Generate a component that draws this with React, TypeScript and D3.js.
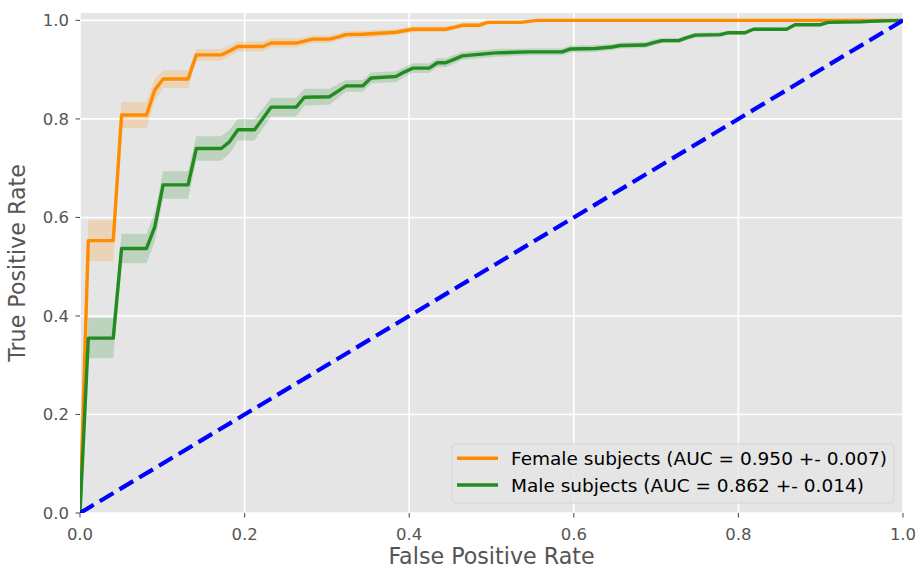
import React from "react";
import * as d3 from "d3";

// ---- data ----
const femaleFpr = [0, 0.0101, 0.0404, 0.0505, 0.0808, 0.0909, 0.101, 0.1313, 0.1414, 0.1717, 0.1818, 0.1919, 0.2222, 0.2323, 0.2626, 0.2727, 0.2828, 0.303, 0.3131, 0.3232, 0.3434, 0.3636, 0.3838, 0.3939, 0.404, 0.4444, 0.4545, 0.4646, 0.4848, 0.4949, 0.5354, 0.5455, 0.5556, 1.0];
const femaleTpr = [0, 0.553, 0.553, 0.808, 0.808, 0.859, 0.881, 0.881, 0.93, 0.93, 0.938, 0.947, 0.947, 0.954, 0.954, 0.958, 0.962, 0.962, 0.966, 0.971, 0.972, 0.974, 0.976, 0.979, 0.982, 0.982, 0.986, 0.99, 0.99, 0.996, 0.996, 0.998, 1.0, 1.0];
const femaleStd = [0, 0.042, 0.042, 0.027, 0.027, 0.022, 0.018, 0.018, 0.012, 0.012, 0.011, 0.01, 0.01, 0.009, 0.009, 0.008, 0.008, 0.008, 0.007, 0.007, 0.007, 0.007, 0.006, 0.006, 0.006, 0.006, 0.005, 0.005, 0.005, 0.004, 0.004, 0.002, 0, 0];

const maleFpr = [0, 0.0101, 0.0404, 0.0505, 0.0808, 0.0909, 0.101, 0.1313, 0.1414, 0.1717, 0.1818, 0.1919, 0.2121, 0.2222, 0.2323, 0.2626, 0.2727, 0.303, 0.3131, 0.3232, 0.3434, 0.3535, 0.3838, 0.3939, 0.404, 0.4242, 0.4343, 0.4444, 0.4545, 0.4646, 0.4848, 0.5051, 0.5455, 0.5859, 0.596, 0.6263, 0.6465, 0.6566, 0.6869, 0.697, 0.7071, 0.7273, 0.7374, 0.7475, 0.7778, 0.7879, 0.8081, 0.8182, 0.8586, 0.8687, 0.899, 0.9091, 0.9495, 0.9596, 1.0];
const maleTpr = [0, 0.355, 0.355, 0.537, 0.537, 0.581, 0.666, 0.666, 0.74, 0.74, 0.754, 0.778, 0.778, 0.801, 0.824, 0.824, 0.844, 0.845, 0.856, 0.867, 0.867, 0.883, 0.886, 0.895, 0.903, 0.903, 0.914, 0.914, 0.921, 0.928, 0.931, 0.934, 0.936, 0.936, 0.942, 0.943, 0.946, 0.949, 0.95, 0.955, 0.959, 0.959, 0.965, 0.97, 0.971, 0.975, 0.975, 0.982, 0.982, 0.991, 0.991, 0.996, 0.997, 0.998, 1.0];
const maleStd = [0, 0.041, 0.041, 0.03, 0.03, 0.029, 0.028, 0.028, 0.025, 0.025, 0.024, 0.022, 0.022, 0.02, 0.019, 0.019, 0.017, 0.016, 0.014, 0.012, 0.012, 0.011, 0.011, 0.01, 0.01, 0.01, 0.009, 0.009, 0.009, 0.008, 0.008, 0.008, 0.007, 0.007, 0.007, 0.007, 0.006, 0.006, 0.006, 0.006, 0.005, 0.005, 0.005, 0.005, 0.005, 0.004, 0.004, 0.004, 0.003, 0.003, 0.003, 0.002, 0.002, 0.002, 0];

const xTicks = [0, 0.2, 0.4, 0.6, 0.8, 1.0];
const yTicks = [0, 0.2, 0.4, 0.6, 0.8, 1.0];
const legendLabels = ["Female subjects (AUC = 0.950 +- 0.007)", "Male subjects (AUC = 0.862 +- 0.014)"];
const seriesColors = ["#ff8c00", "#228b22"];

const W = 919, H = 569;
const L = 80, R = 903, T = 13, B = 513;
const FONT = "'DejaVu Sans', sans-serif";

export default function App() {
  const x = d3.scaleLinear().domain([0, 1]).range([L, R]);
  const y = d3.scaleLinear().domain([0, 1.015]).range([B, T]);

  const series = [
    { fpr: femaleFpr, tpr: femaleTpr, std: femaleStd, color: seriesColors[0] },
    { fpr: maleFpr, tpr: maleTpr, std: maleStd, color: seriesColors[1] },
  ];

  const mk = (s: any) => {
    const pts = s.fpr.map((f: number, i: number) => [x(f), y(s.tpr[i])] as [number, number]);
    const area = d3
      .area<number>()
      .x((_, i) => x(s.fpr[i]))
      .y0((_, i) => y(Math.max(s.tpr[i] - s.std[i], 0)))
      .y1((_, i) => y(Math.min(s.tpr[i] + s.std[i], 1)));
    return { linePath: d3.line()(pts) as string, areaPath: area(s.fpr) as string };
  };

  const paths = series.map(mk);

  return (
    <svg width={W} height={H} style={{ position: "absolute", left: 0, top: 0, display: "block", background: "#fff" }} fontFamily={FONT}>
      <defs>
        <clipPath id="plotclip">
          <rect x={L} y={T} width={R - L} height={B - T} />
        </clipPath>
      </defs>
      <rect x={L} y={T} width={R - L} height={B - T} fill="#e5e5e5" />
      {xTicks.map((t) => (
        <line key={"gx" + t} x1={x(t)} x2={x(t)} y1={T} y2={B} stroke="#fff" strokeWidth={1.6} />
      ))}
      {yTicks.map((t) => (
        <line key={"gy" + t} x1={L} x2={R} y1={y(t)} y2={y(t)} stroke="#fff" strokeWidth={1.6} />
      ))}
      <g clipPath="url(#plotclip)">
        {series.map((s, i) => (
          <g key={i}>
            <path d={paths[i].linePath} fill="none" stroke={s.color} strokeWidth={3.4} strokeLinejoin="round" />
            <path d={paths[i].areaPath} fill={s.color} fillOpacity={0.2} stroke="none" />
          </g>
        ))}
        <line x1={x(0)} y1={y(0)} x2={x(1)} y2={y(1)} stroke="#0000ff" strokeWidth={4.2} strokeDasharray="16 7" />
      </g>
      {xTicks.map((t) => (
        <g key={"tx" + t}>
          <line x1={x(t)} x2={x(t)} y1={B} y2={B + 4.5} stroke="#555" strokeWidth={1.1} />
          <text x={x(t)} y={539.5} textAnchor="middle" fontSize={16.5} fill="#555">
            {t.toFixed(1)}
          </text>
        </g>
      ))}
      {yTicks.map((t) => (
        <g key={"ty" + t}>
          <line x1={L - 4.5} x2={L} y1={y(t)} y2={y(t)} stroke="#555" strokeWidth={1.1} />
          <text x={69} y={y(t) + 6} textAnchor="end" fontSize={16.5} fill="#555">
            {t.toFixed(1)}
          </text>
        </g>
      ))}
      <text x={(L + R) / 2} y={564} textAnchor="middle" fontSize={22.2} fill="#555">
        False Positive Rate
      </text>
      <text transform={`translate(25, ${(T + B) / 2}) rotate(-90)`} textAnchor="middle" fontSize={22.2} fill="#555">
        True Positive Rate
      </text>
      <rect x={452} y={444} width={442} height={59} rx={4} fill="#e5e5e5" fillOpacity={0.8} stroke="#d4d4d4" strokeWidth={1} />
      {legendLabels.map((lab, i) => (
        <g key={lab}>
          <line x1={457} x2={498} y1={458.3 + i * 26.7} y2={458.3 + i * 26.7} stroke={seriesColors[i]} strokeWidth={3.4} />
          <text x={511} y={458.3 + i * 26.7 + 6.6} fontSize={18.5} fill="#000">
            {lab}
          </text>
        </g>
      ))}
    </svg>
  );
}
